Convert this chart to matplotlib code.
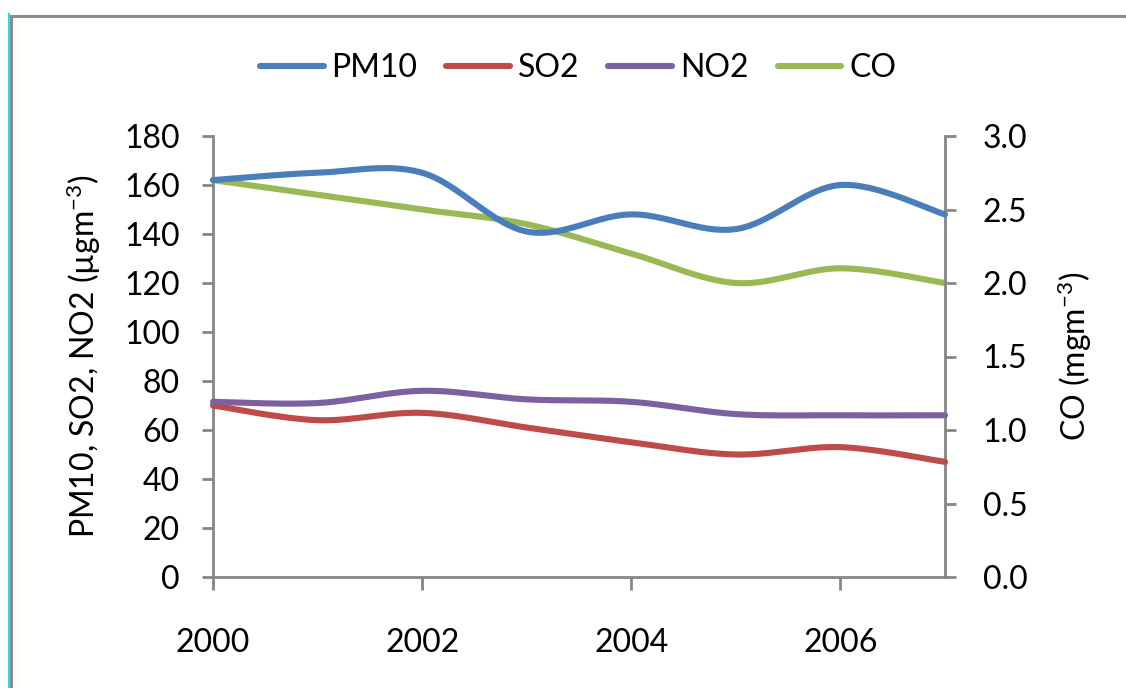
import numpy as np
import matplotlib
matplotlib.use("Agg")
import matplotlib.pyplot as plt
from matplotlib.lines import Line2D

plt.rcParams['font.family'] = ['Lato', 'DejaVu Sans']
plt.rcParams['mathtext.fontset'] = 'custom'
plt.rcParams['mathtext.rm'] = 'Lato'
plt.rcParams['mathtext.it'] = 'Lato'

years = [2000, 2001, 2002, 2003, 2004, 2005, 2006, 2007]
pm10 = [162, 165, 165, 141, 148, 142, 160, 148]
so2 = [70, 64, 67, 61, 55, 50, 53, 47]
no2 = [71.5, 71, 76, 72.5, 71.5, 66.5, 66, 66]
co = [2.7, 2.6, 2.5, 2.4, 2.2, 2.0, 2.1, 2.0]

left_ticks = [0, 20, 40, 60, 80, 100, 120, 140, 160, 180]
right_ticks = [0.0, 0.5, 1.0, 1.5, 2.0, 2.5, 3.0]
x_ticks = [2000, 2002, 2004, 2006]

C_PM = '#4A7EBB'
C_SO = '#BE4B48'
C_NO = '#7D60A0'
C_CO = '#98B954'
GRAY = '#868686'


def smooth(xs, ys, n=40):
    xs = np.asarray(xs, float)
    ys = np.asarray(ys, float)
    px = np.concatenate([[xs[0]], xs, [xs[-1]]])
    py = np.concatenate([[ys[0]], ys, [ys[-1]]])
    outx, outy = [], []
    t = np.linspace(0, 1, n)
    for i in range(1, len(px) - 2):
        p0x, p0y = px[i], py[i]
        p3x, p3y = px[i + 1], py[i + 1]
        c1x = p0x + (px[i + 1] - px[i - 1]) / 6
        c1y = p0y + (py[i + 1] - py[i - 1]) / 6
        c2x = p3x - (px[i + 2] - px[i]) / 6
        c2y = p3y - (py[i + 2] - py[i]) / 6
        bx = (1 - t) ** 3 * p0x + 3 * (1 - t) ** 2 * t * c1x + 3 * (1 - t) * t ** 2 * c2x + t ** 3 * p3x
        by = (1 - t) ** 3 * p0y + 3 * (1 - t) ** 2 * t * c1y + 3 * (1 - t) * t ** 2 * c2y + t ** 3 * p3y
        outx.extend(bx)
        outy.extend(by)
    return np.array(outx), np.array(outy)


fig = plt.figure(figsize=(11.26, 6.88), dpi=100)
ax = fig.add_axes([213 / 1126, 1 - 577 / 688, (945 - 213) / 1126, (577 - 136) / 688])
ax2 = ax.twinx()

LW = 4.4
for ys, c in [(pm10, C_PM), (so2, C_SO), (no2, C_NO)]:
    sx, sy = smooth(years, ys)
    ax.plot(sx, sy, color=c, lw=LW, solid_capstyle='round', clip_on=False, zorder=3)
sx, sy = smooth(years, co)
ax2.plot(sx, sy, color=C_CO, lw=LW, solid_capstyle='round', clip_on=False, zorder=2)
ax.set_zorder(ax2.get_zorder() + 1)
ax.patch.set_visible(False)

ax.set_xlim(2000, 2007)
ax.set_ylim(0, 180)
ax2.set_ylim(0, 3.0)
ax.set_xticks(x_ticks)
ax.set_xticklabels([str(v) for v in x_ticks])
ax.set_yticks(left_ticks)
ax.set_yticklabels([str(v) for v in left_ticks])
ax2.set_yticks(right_ticks)
ax2.set_yticklabels([f"{v:.1f}" for v in right_ticks])

FS = 23
for a in (ax, ax2):
    for s in a.spines.values():
        s.set_visible(False)
ax.spines['left'].set_visible(True)
ax.spines['bottom'].set_visible(True)
ax2.spines['right'].set_visible(True)
for s in (ax.spines['left'], ax.spines['bottom'], ax2.spines['right']):
    s.set_color(GRAY)
    s.set_linewidth(2.0)

ax.tick_params(axis='y', direction='out', length=8, width=2, color=GRAY, labelsize=FS, pad=16)
ax.tick_params(axis='x', direction='out', length=9, width=2, color=GRAY, labelsize=FS, pad=28)
ax2.tick_params(axis='y', direction='out', length=8, width=2, color=GRAY, labelsize=FS, pad=19)

ax.set_ylabel('PM10, SO2, NO2 (µgm$^{-3}$)', fontsize=FS, labelpad=15)
ax2.set_ylabel('CO (mgm$^{-3}$)', fontsize=FS, labelpad=20)

handles = [Line2D([], [], color=c, lw=LW, solid_capstyle='round') for c in (C_PM, C_SO, C_NO, C_CO)]
fig.legend(handles, ['PM10', 'SO2', 'NO2', 'CO'], loc='center', bbox_to_anchor=(578 / 1126, 1 - 68 / 688),
           ncol=4, frameon=False, fontsize=FS, handlelength=2.0, handletextpad=0.25, columnspacing=0.9)

# outer frame
fig.add_artist(Line2D([10 / 1126, 1.0], [1 - 15.5 / 688, 1 - 15.5 / 688], transform=fig.transFigure, color='#8c8c8c', lw=2.2))
fig.add_artist(Line2D([11 / 1126, 11 / 1126], [0, 1 - 15.5 / 688], transform=fig.transFigure, color='#8c8c8c', lw=2.2))
fig.add_artist(Line2D([8.5 / 1126, 8.5 / 1126], [0, 1 - 14 / 688], transform=fig.transFigure, color='#22e0e8', lw=1.5))

fig.savefig('out.png', dpi=100)
